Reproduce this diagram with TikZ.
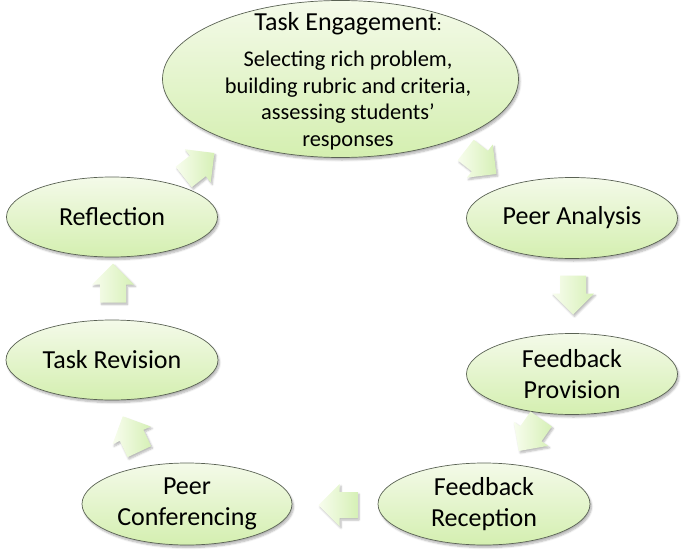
\documentclass[tikz,border=0pt]{standalone}
\usepackage{fontspec}
\setmainfont{Carlito}
\usetikzlibrary{shapes.geometric,shadows.blur}
\definecolor{ellTop}{RGB}{244,250,233}
\definecolor{ellBot}{RGB}{212,239,176}
\definecolor{ellLine}{RGB}{90,98,84}
\definecolor{arrTop}{RGB}{248,253,238}
\definecolor{arrBot}{RGB}{214,240,182}
\begin{document}
\begin{tikzpicture}[x=1pt,y=-1pt,
  stage/.style={ellipse, draw=ellLine, line width=0.7pt, top color=ellTop, bottom color=ellBot,
    inner sep=0pt, align=center, font=\fontsize{26}{30.5}\selectfont,
    blur shadow={shadow xshift=1.5pt, shadow yshift=-2.5pt, shadow blur steps=6, shadow opacity=30}},
  flowfill/.style={draw=none, left color=arrTop, right color=arrBot,
    blur shadow={shadow xshift=1.5pt, shadow yshift=-2pt, shadow blur steps=5, shadow opacity=28}},
  blockarr/.pic={
    \path[flowfill] (-19.5,-13) -- (-1.5,-13) -- (-1.5,-21) -- (19.5,0) -- (-1.5,21)
      -- (-1.5,13) -- (-19.5,13) -- cycle;
  },
  ttl/.style={inner sep=0pt, font=\fontsize{26}{30}\selectfont},
  body/.style={inner sep=0pt, align=center, font=\fontsize{22.4}{26.5}\selectfont}]
\useasboundingbox (0,0) rectangle (685,551);

% stages
\node[stage, minimum width=356pt, minimum height=157pt] (te) at (340.5,79) {};
\node[ttl, anchor=base] (tet) at (348,30.7) {Task Engagement{\fontsize{18}{20}\selectfont:}};
\node[body, anchor=north] (teb) at (348,51) {Selecting rich problem,\\building rubric and criteria,\\assessing students’\\responses};

\node[stage, minimum width=211pt, minimum height=81pt] (pa) at (572,218) {Peer Analysis};
\node[stage, minimum width=211pt, minimum height=81pt] (fp) at (572,374) {Feedback\\Provision};
\node[stage, minimum width=212pt, minimum height=82pt] (fr) at (484,504) {Feedback\\Reception};
\node[stage, minimum width=210pt, minimum height=82pt] (pc) at (187,504) {Peer\\Conferencing};
\node[stage, minimum width=212pt, minimum height=80pt] (tr) at (112,360) {Task Revision};
\node[stage, minimum width=211pt, minimum height=80pt] (rf) at (112,217) {Reflection};

% block arrows between stages
\pic[rotate=-38] (a1) at (481,162) {blockarr};
\pic[rotate=-90] (a2) at (573,295) {blockarr};
\pic[rotate=-125] (a3) at (530,435) {blockarr};
\pic[rotate=180] (a4) at (338,505) {blockarr};
\pic[rotate=115] (a5) at (131,434) {blockarr};
\pic[rotate=90] (a6) at (113,283) {blockarr};
\pic[rotate=38] (a7) at (199,165) {blockarr};
\end{tikzpicture}
\end{document}
